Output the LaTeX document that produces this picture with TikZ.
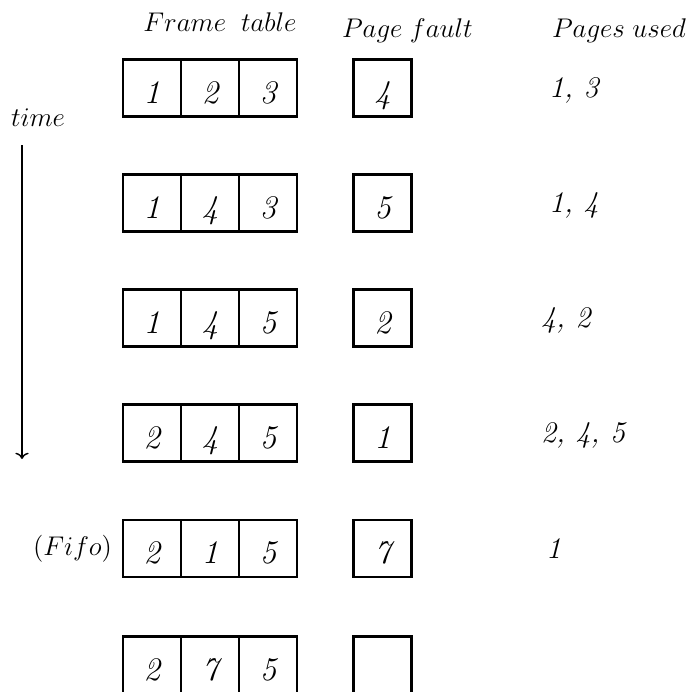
\RequirePackage{fix-cm}
\documentclass[tikz,border=0pt]{standalone}
\usepackage{fontspec}
\usepackage{tikz}
\usetikzlibrary{arrows.meta}

\begin{document}
\begin{tikzpicture}[x=0.5pt,y=-0.5pt,font=\fontsize{13.5}{16}\selectfont,>=To,
 cell/.style={draw,line width=1.3pt,minimum width=29pt,minimum height=28.5pt,inner sep=0pt,
   text height=15pt,text depth=0pt,font=\fontsize{16.5}{20}\selectfont\itshape},
 used/.style={anchor=west,inner sep=0pt,font=\fontsize{15}{18}\selectfont\itshape},
 head/.style={inner sep=0pt},
 every path/.style={line width=1pt}]
\useasboundingbox (0,0) rectangle (688,692);
% column heads
\node[head] (hframe) at (220,22) {$Frame\;\;table$};
\node[head,anchor=west] (hfault) at (341,31) {$Page\;fault$};
\node[head,anchor=west] (hused) at (551,31) {$Pages\;used$};
% time axis
\node[head,anchor=west] (time) at (10,118) {$time$};
\coordinate (tstart) at (22,145);
\coordinate (tend) at (22,459);
\draw[->,line width=0.7pt] (tstart) -- (tend);
% row 1
\node[cell] (r1a) at (152,88) {1};
\node[cell] (r1b) at (210,88) {2};
\node[cell] (r1c) at (268,88) {3};
\node[cell] (pf1) at (382.5,88) {4};
\node[used] (u1) at (548,90) {1,~3};
% row 2
\node[cell] (r2a) at (152,203) {1};
\node[cell] (r2b) at (210,203) {4};
\node[cell] (r2c) at (268,203) {3};
\node[cell] (pf2) at (382.5,203) {5};
\node[used] (u2) at (548,205) {1,~4};
% row 3
\node[cell] (r3a) at (152,318) {1};
\node[cell] (r3b) at (210,318) {4};
\node[cell] (r3c) at (268,318) {5};
\node[cell] (pf3) at (382.5,318) {2};
\node[used] (u3) at (540,320) {4,~2};
% row 4
\node[cell] (r4a) at (152,433) {2};
\node[cell] (r4b) at (210,433) {4};
\node[cell] (r4c) at (268,433) {5};
\node[cell] (pf4) at (382.5,433) {1};
\node[used] (u4) at (540,435) {2,~4,~5};
% row 5
\node[head,anchor=west] (fifo) at (32,549) {$(Fifo)$};
\node[cell] (r5a) at (152,548.5) {2};
\node[cell] (r5b) at (210,548.5) {1};
\node[cell] (r5c) at (268,548.5) {5};
\node[cell] (pf5) at (382.5,548.5) {7};
\node[used] (u5) at (545,549) {1};
% row 6, its lower edge falls off the page
\node[cell] (r6a) at (152,665) {2};
\node[cell] (r6b) at (210,665) {7};
\node[cell] (r6c) at (268,665) {5};
\node[cell] (pf6) at (382.5,665) {};
\end{tikzpicture}
\end{document}
